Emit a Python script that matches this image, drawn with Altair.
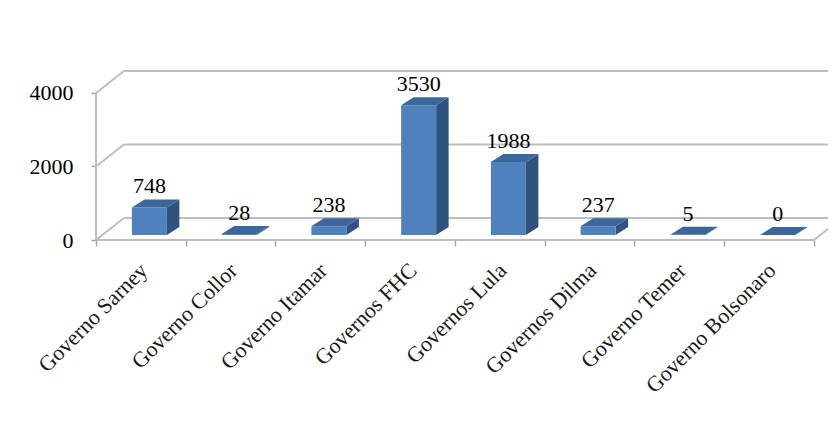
import altair as alt
import pandas as pd

# ---- data ----
categories = ["Governo Sarney", "Governo Collor", "Governo Itamar", "Governos FHC",
              "Governos Lula", "Governos Dilma", "Governo Temer", "Governo Bolsonaro"]
values = [748, 28, 238, 3530, 1988, 237, 5, 0]
y_ticks = [0, 2000, 4000]

df = pd.DataFrame({"cat": categories, "idx": list(range(len(categories))), "value": values})
grid_df = pd.DataFrame({"v": y_ticks})
n = len(categories)
frame_df = pd.DataFrame({"n": [n], "top": [max(y_ticks)]})

# ---- geometry (in scale units) ----
XMAX = 8.156
YMAX = 5714.0
WALL_DX = 0.312   # depth of the walls along x
WALL_DY = 599.0   # depth of the walls along y
XL, XR = 0.40, 0.79   # front face of a bar inside its band
BDX, BDY = 0.139, 218.0  # bar depth
B0 = 136.0

FONT = "Liberation Serif"
GRID = "#bdbdbd"
FRONT = "#4f81bd"
TOP = "#3c679b"
SIDE = "#30527e"
FS = 22

xs = alt.Scale(domain=[0, XMAX], nice=False, zero=False)
ys = alt.Scale(domain=[0, YMAX], nice=False, zero=False)

x_axis = alt.Axis(values=list(range(n + 1)), labels=False, domain=False, grid=False,
                  ticks=True, tickColor="#a6a6a6", tickSize=6, tickWidth=1.5, title=None)
y_axis = alt.Axis(values=y_ticks, format="d", domain=False, grid=False, ticks=True,
                  tickColor="#a6a6a6", tickSize=5, tickWidth=1.5, labelFont=FONT,
                  labelFontSize=FS, labelColor="black", labelPadding=18, title=None)


def X(f):
    return alt.X(f, type="quantitative", scale=xs, axis=x_axis)


def Y(f):
    return alt.Y(f, type="quantitative", scale=ys, axis=y_axis, stack=None)


# back wall horizontal gridlines
back = alt.Chart(grid_df).transform_calculate(
    gx=f"{WALL_DX}", gx2=f"{XMAX}", gy=f"datum.v + {WALL_DY}"
).mark_rule(color=GRID, strokeWidth=2).encode(x=X("gx"), x2="gx2", y=Y("gy"))

# side wall diagonals
side_wall = alt.Chart(grid_df).transform_calculate(
    gx="0", gx2=f"{WALL_DX}", gy="datum.v", gy2=f"datum.v + {WALL_DY}"
).mark_rule(color=GRID, strokeWidth=2).encode(x=X("gx"), x2="gx2", y=Y("gy"), y2="gy2")

# floor front edge
floor = alt.Chart(frame_df).transform_calculate(
    gx="0", gx2="datum.n", gy="0"
).mark_rule(color=GRID, strokeWidth=2).encode(x=X("gx"), x2="gx2", y=Y("gy"))

# floor right diagonal
floor_r = alt.Chart(frame_df).transform_calculate(
    gx="datum.n", gx2=f"datum.n + {WALL_DX}", gy="0", gy2=f"{WALL_DY}"
).mark_rule(color=GRID, strokeWidth=2).encode(x=X("gx"), x2="gx2", y=Y("gy"), y2="gy2")

# front value axis line
yline = alt.Chart(frame_df).transform_calculate(
    gx="0", gy="0", gy2="datum.top"
).mark_rule(color=GRID, strokeWidth=2).encode(x=X("gx"), y=Y("gy"), y2="gy2")

# bar side faces (two corners per face, folded into rows)
side = alt.Chart(df).transform_calculate(
    c0="0", c1="1"
).transform_fold(["c0", "c1"], as_=["corner", "k"]).transform_calculate(
    sx=f"datum.idx + {XR} + datum.k * {BDX}",
    sy=f"{B0} + datum.value + datum.k * {BDY}",
    sy2=f"{B0} + datum.k * {BDY}",
).mark_area(color=SIDE, interpolate="linear").encode(
    x=X("sx"), y=Y("sy"), y2="sy2", detail="cat:N")

# bar front faces
front = alt.Chart(df).transform_calculate(
    fx=f"datum.idx + {XL}", fx2=f"datum.idx + {XR}",
    fy=f"{B0}", fy2=f"{B0} + datum.value",
).mark_rect(color=FRONT).encode(x=X("fx"), x2="fx2", y=Y("fy"), y2="fy2")

# bar top faces (four x-breakpoints per face)
top = alt.Chart(df).transform_calculate(
    c0="0", c1="1", c2="2", c3="3"
).transform_fold(["c0", "c1", "c2", "c3"], as_=["corner", "k"]).transform_calculate(
    tx=f"datum.idx + (datum.k == 0 ? {XL} : datum.k == 1 ? {XL + BDX} : datum.k == 2 ? {XR} : {XR + BDX})",
    ty=f"{B0} + datum.value + (datum.k == 0 ? 0 : {BDY})",
    ty2=f"{B0} + datum.value + (datum.k == 3 ? {BDY} : 0)",
).mark_area(color=TOP, interpolate="linear").encode(
    x=X("tx"), y=Y("ty"), y2="ty2", detail="cat:N")

# value labels
labels = alt.Chart(df).transform_calculate(
    lx=f"datum.idx + {(XL + XR) / 2}", ly=f"{B0} + datum.value + {BDY}"
).mark_text(font=FONT, fontSize=FS, color="black", baseline="alphabetic", align="center",
            yOffset=-6).encode(x=X("lx"), y=Y("ly"), text="value:Q")

# category labels
cat_labels = alt.Chart(df).transform_calculate(
    cx="datum.idx + 0.5", cy="0"
).mark_text(font=FONT, fontSize=FS, color="#1a1a1a", angle=315, align="right",
            baseline="middle", xOffset=3, yOffset=27).encode(x=X("cx"), y=Y("cy"), text="cat:N")

chart = alt.layer(back, side_wall, floor, floor_r, yline, side, front, top, labels, cat_labels).properties(
    width=732, height=210,
    padding={"left": 88, "top": 22, "right": 0, "bottom": 175},
    autosize=alt.AutoSizeParams(type="none"),
    background="white",
).configure_view(stroke=None)

chart.save("out.html", embed_options={"renderer": "svg", "actions": False})
